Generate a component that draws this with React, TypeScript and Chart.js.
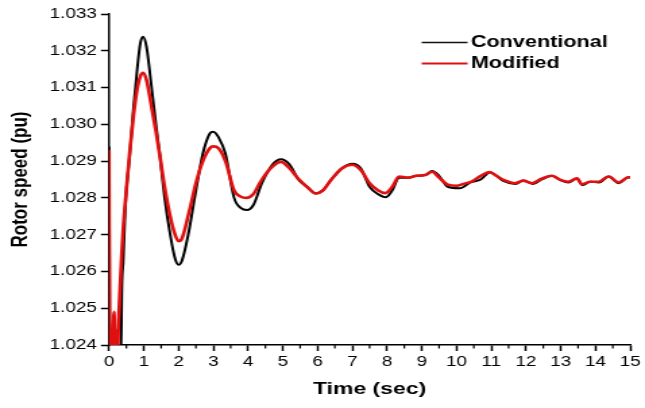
import React, { useEffect, useRef } from "react";
import { Chart, registerables } from "chart.js";

Chart.register(...registerables);

// Conventional controller (black)
const convT = [0, 0.03, 0.1, 0.12, 0.14, 0.2, 0.3, 0.34, 0.37, 0.41, 0.47, 0.6, 0.7, 0.8, 0.9, 0.98, 1.08, 1.2, 1.35, 1.47, 1.6, 1.76, 1.9, 2.0, 2.1, 2.3, 2.5, 2.7, 2.9, 3.0, 3.15, 3.35, 3.6, 3.8, 3.97, 4.15, 4.4, 4.7, 4.95, 5.2, 5.45, 5.7, 5.95, 6.15, 6.4, 6.7, 7.0, 7.25, 7.5, 7.75, 7.97, 8.15, 8.35, 8.6, 8.85, 9.1, 9.3, 9.5, 9.75, 10.1, 10.4, 10.7, 10.97, 11.15, 11.35, 11.7, 11.92, 12.2, 12.45, 12.75, 13.0, 13.22, 13.47, 13.62, 13.85, 14.1, 14.38, 14.67, 14.95, 15];
const convV = [1.0294, 1.0236, 1.0237, 1.0248, 1.0237, 1.0236, 1.0236, 1.0236, 1.0256, 1.0263, 1.0278, 1.0292, 1.0304, 1.0314, 1.0322, 1.03238, 1.0321, 1.0312, 1.03, 1.0291, 1.028, 1.027, 1.02635, 1.02618, 1.0263, 1.0271, 1.0282, 1.0292, 1.02975, 1.0298, 1.02965, 1.0292, 1.028, 1.02772, 1.02767, 1.0278, 1.0284, 1.0289, 1.02905, 1.0289, 1.0285, 1.0283, 1.02812, 1.0282, 1.0285, 1.0288, 1.02893, 1.0288, 1.0283, 1.0281, 1.02802, 1.0282, 1.02855, 1.02855, 1.0286, 1.02862, 1.02873, 1.0286, 1.0283, 1.02826, 1.02842, 1.0285, 1.0287, 1.0286, 1.02846, 1.02838, 1.02847, 1.02838, 1.0285, 1.0286, 1.02848, 1.02842, 1.02853, 1.02835, 1.02844, 1.02842, 1.02858, 1.0284, 1.02856, 1.02855];

// Modified controller (red)
const modT = [0, 0.02, 0.04, 0.06, 0.08, 0.1, 0.12, 0.15, 0.17, 0.19, 0.21, 0.23, 0.25, 0.27, 0.32, 0.36, 0.41, 0.47, 0.59, 0.7, 0.8, 0.9, 0.98, 1.08, 1.2, 1.35, 1.47, 1.6, 1.76, 1.9, 2.0, 2.1, 2.3, 2.5, 2.7, 2.9, 3.0, 3.15, 3.35, 3.6, 3.8, 3.95, 4.15, 4.4, 4.7, 4.95, 5.2, 5.45, 5.7, 5.95, 6.15, 6.4, 6.7, 7.0, 7.25, 7.5, 7.75, 7.95, 8.15, 8.35, 8.6, 8.85, 9.1, 9.3, 9.5, 9.75, 10.0, 10.2, 10.45, 10.7, 10.95, 11.15, 11.35, 11.69, 11.92, 12.17, 12.45, 12.75, 12.99, 13.22, 13.47, 13.61, 13.85, 14.09, 14.38, 14.67, 14.95, 15];
const modV = [1.0293, 1.0236, 1.0244, 1.0236, 1.0244, 1.0236, 1.0244, 1.0249, 1.0236, 1.0244, 1.0236, 1.0244, 1.0237, 1.0245, 1.0256, 1.0264, 1.0272, 1.0279, 1.0292, 1.0302, 1.0309, 1.0313, 1.0314, 1.0312, 1.0306, 1.0298, 1.0291, 1.0283, 1.0275, 1.027, 1.02682, 1.0269, 1.0276, 1.0284, 1.029, 1.02935, 1.0294, 1.02935, 1.029, 1.0282, 1.02803, 1.028, 1.0281, 1.0285, 1.02885, 1.02898, 1.0288, 1.02852, 1.0283, 1.02812, 1.0282, 1.0285, 1.0288, 1.0289, 1.02875, 1.0284, 1.0282, 1.02813, 1.0283, 1.02858, 1.02855, 1.0286, 1.02862, 1.02871, 1.02855, 1.02836, 1.02833, 1.02838, 1.02845, 1.0286, 1.0287, 1.0286, 1.02849, 1.0284, 1.02847, 1.0284, 1.02852, 1.0286, 1.02849, 1.02844, 1.02853, 1.02837, 1.02844, 1.02844, 1.02858, 1.02842, 1.02856, 1.02855];

const seriesNames = ["Conventional", "Modified"];
const xTitle = "Time (sec)";
const yTitle = "Rotor speed (pu)";
const xMin = 0;
const xMax = 15;
const yMin = 1.024;
const yMax = 1.033;
const yStep = 0.001;

const FONT = "'Liberation Sans', Arial, sans-serif";
const INTERNAL_W = 478;
const OUT_W = 645;
const H = 408;

const overlayPlugin = {
  id: "overlay",
  afterDraw(chart: any) {
    const ctx = chart.ctx;
    const xs = chart.scales.x;
    const bottom = chart.chartArea.bottom;
    ctx.save();
    // minor ticks on x axis
    ctx.strokeStyle = "#000";
    ctx.lineWidth = 1.2;
    for (let v = xMin + 0.5; v < xMax; v += 1) {
      const px = xs.getPixelForValue(v);
      ctx.beginPath();
      ctx.moveTo(px, bottom);
      ctx.lineTo(px, bottom + 3.5);
      ctx.stroke();
    }
    // legend
    const items = [
      { label: seriesNames[0], color: "#111", width: 1.5, y: 42.5 },
      { label: seriesNames[1], color: "#e01010", width: 2.2, y: 63.5 },
    ];
    ctx.font = `bold 16px ${FONT}`;
    ctx.textBaseline = "middle";
    ctx.textAlign = "left";
    for (const it of items) {
      ctx.strokeStyle = it.color;
      ctx.lineWidth = it.width;
      ctx.beginPath();
      ctx.moveTo(312.5, it.y);
      ctx.lineTo(346.5, it.y);
      ctx.stroke();
      ctx.fillStyle = "#000";
      ctx.fillText(it.label, 349, it.y);
    }
    ctx.restore();
  },
};

export default function App() {
  const ref = useRef<HTMLCanvasElement>(null);
  useEffect(() => {
    const canvas = ref.current;
    if (!canvas) return;
    const chart = new Chart(canvas, {
      type: "line",
      data: {
        datasets: [
          {
            label: seriesNames[1],
            data: modT.map((t, i) => ({ x: t, y: modV[i] })),
            borderColor: "#e01010",
            borderWidth: 2.6,
            pointRadius: 0,
            cubicInterpolationMode: "monotone",
            clip: 0,
            order: 0,
          },
          {
            label: seriesNames[0],
            data: convT.map((t, i) => ({ x: t, y: convV[i] })),
            borderColor: "#000",
            borderWidth: 2,
            pointRadius: 0,
            cubicInterpolationMode: "monotone",
            clip: 0,
            order: 1,
          },
        ],
      },
      options: {
        responsive: false,
        animation: false,
        devicePixelRatio: 1,
        layout: { padding: { top: 14, right: 11, left: 0, bottom: 0 } },
        plugins: {
          legend: { display: false },
          tooltip: { enabled: false },
        },
        scales: {
          x: {
            type: "linear",
            min: xMin,
            max: xMax,
            afterFit: (s: any) => {
              s.height = 63;
            },
            ticks: {
              stepSize: 1,
              color: "#000",
              padding: 3,
              maxRotation: 0,
              autoSkip: false,
              font: { family: FONT, size: 14 },
            },
            grid: {
              drawOnChartArea: false,
              drawTicks: true,
              tickLength: 6,
              tickColor: "#000",
              tickWidth: 1.5,
            },
            border: { display: true, color: "#000", width: 1.5 },
            title: {
              display: true,
              text: xTitle,
              color: "#000",
              font: { family: FONT, size: 17, weight: "bold" },
              padding: { top: 0, bottom: 8 },
            },
          },
          y: {
            type: "linear",
            min: yMin,
            max: yMax,
            afterFit: (s: any) => {
              s.width = 80.8;
            },
            ticks: {
              stepSize: yStep,
              color: "#000",
              padding: 3,
              autoSkip: false,
              font: { family: FONT, size: 14 },
              callback: (v: any) => Number(v).toFixed(3),
            },
            grid: {
              drawOnChartArea: false,
              drawTicks: true,
              tickLength: 6,
              tickColor: "#000",
              tickWidth: 1.5,
            },
            border: { display: true, color: "#000", width: 1.5 },
            title: {
              display: true,
              text: yTitle,
              color: "#000",
              font: { family: FONT, size: 17, weight: "bold" },
              padding: { top: 5, bottom: 0 },
            },
          },
        },
      },
      plugins: [overlayPlugin],
    } as any);
    return () => chart.destroy();
  }, []);

  return (
    <div style={{ position: "absolute", left: 0, top: 0, width: OUT_W, height: H, background: "#fff" }}>
      <canvas
        ref={ref}
        width={INTERNAL_W}
        height={H}
        style={{ width: OUT_W + "px", height: H + "px", display: "block" }}
      />
    </div>
  );
}
